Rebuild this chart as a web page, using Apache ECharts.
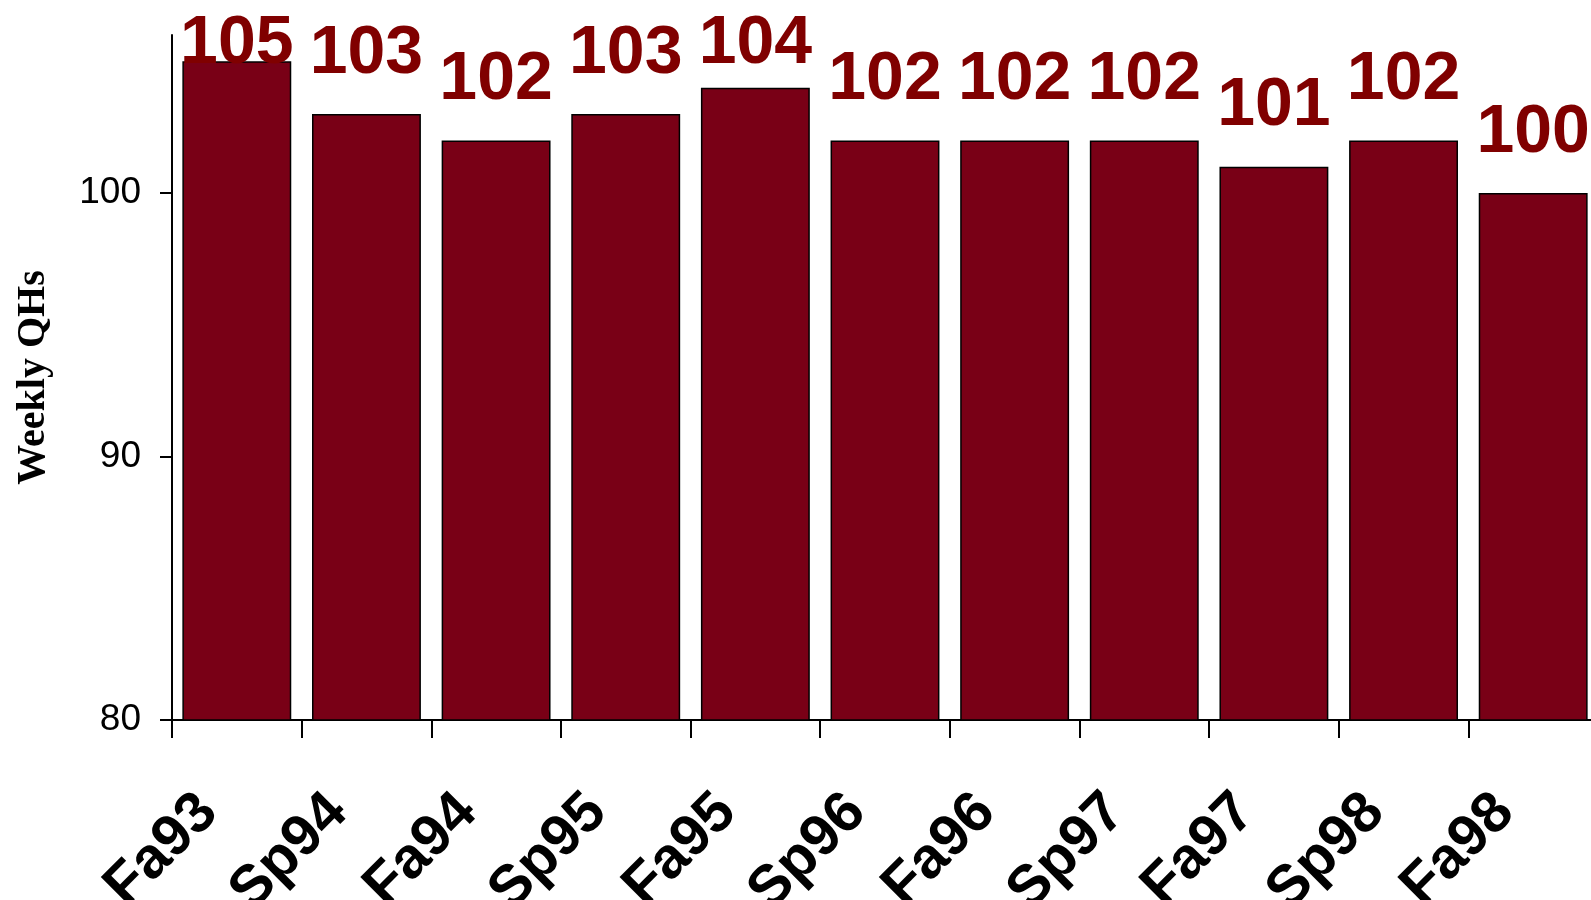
<!DOCTYPE html>
<html>
<head>
<meta charset="utf-8">
<style>
  html, body { margin: 0; padding: 0; background: #ffffff; }
  #chart { width: 1591px; height: 900px; }
</style>
<script src="https://cdn.jsdelivr.net/npm/echarts@6/dist/echarts.min.js"></script>
</head>
<body>
<div id="chart"></div>
<script>
// Weekly quarter-hours by ratings period
const terms = ['Fa93', 'Sp94', 'Fa94', 'Sp95', 'Fa95', 'Sp96', 'Fa96', 'Sp97', 'Fa97', 'Sp98', 'Fa98'];
const weeklyQHs = [105, 103, 102, 103, 104, 102, 102, 102, 101, 102, 100];
const yTicks = [80, 90, 100];

const chart = echarts.init(document.getElementById('chart'), null, { renderer: 'canvas' });

// value labels sit this far above their bar, but never above LABEL_MIN_BOTTOM
const LABEL_DISTANCE = 26;
const LABEL_MIN_BOTTOM = 78;

const baseOption = {
  animation: false,
  grid: { left: 172, top: 35, bottom: 180, right: -7, containLabel: false, outerBoundsMode: 'none' },
  xAxis: {
    type: 'category',
    data: terms,
    axisLine: { show: true, lineStyle: { color: '#000', width: 2 } },
    axisTick: { show: true, length: 18, lineStyle: { color: '#000', width: 2 } },
    axisLabel: {
      rotate: 45,
      margin: 55,
      padding: [0, 40, 0, 0],
      color: '#000',
      fontFamily: 'Liberation Sans, Arial, sans-serif',
      fontWeight: 'bold',
      fontSize: 58
    }
  },
  yAxis: {
    type: 'value',
    min: 80,
    max: 106,
    name: 'Weekly QHs',
    nameLocation: 'middle',
    nameGap: 118,
    nameTextStyle: {
      fontFamily: 'Liberation Serif, Times New Roman, serif',
      fontWeight: 'bold',
      fontSize: 40,
      color: '#000'
    },
    splitLine: { show: false },
    axisLine: { show: true, lineStyle: { color: '#000', width: 2 } },
    axisTick: { show: true, length: 12, customValues: yTicks, lineStyle: { color: '#000', width: 2 } },
    axisLabel: {
      customValues: yTicks,
      margin: 31,
      color: '#000',
      fontFamily: 'Liberation Sans, Arial, sans-serif',
      fontSize: 37
    }
  },
  series: [{
    type: 'bar',
    data: weeklyQHs,
    barCategoryGap: '16%',
    itemStyle: { color: '#790016', borderColor: '#000', borderWidth: 1.5 },
    label: {
      show: true,
      position: 'top',
      distance: LABEL_DISTANCE,
      color: '#800000',
      fontFamily: 'Liberation Sans, Arial, sans-serif',
      fontWeight: 'bold',
      fontSize: 68
    }
  }]
};

chart.setOption(baseOption);

// keep the tallest bars' labels inside the canvas by shortening their distance
const barData = weeklyQHs.map(function (v) {
  const barTop = chart.convertToPixel({ yAxisIndex: 0 }, v);
  const d = Math.min(LABEL_DISTANCE, barTop - LABEL_MIN_BOTTOM);
  return { value: v, label: { distance: d } };
});
chart.setOption({ series: [{ data: barData }] });
</script>
</body>
</html>
